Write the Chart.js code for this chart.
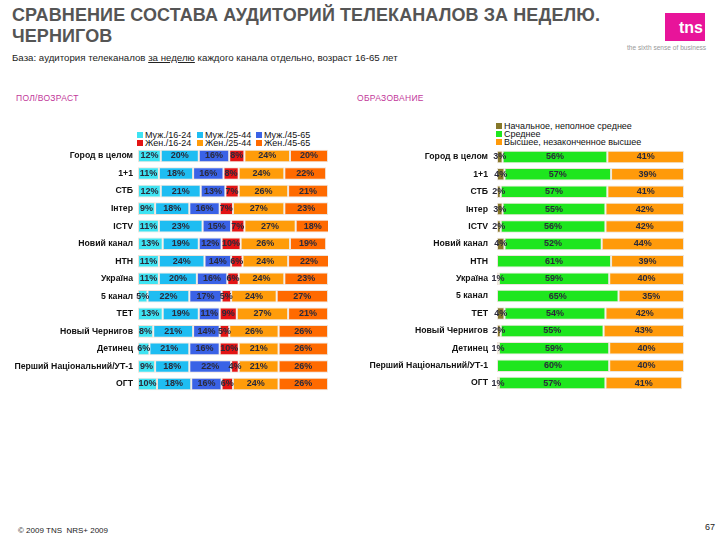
<!DOCTYPE html>
<html>
<head>
<meta charset="utf-8">
<script src="https://cdn.jsdelivr.net/npm/chart.js@4/dist/chart.umd.min.js"></script>
<style>
  body { margin:0; width:720px; height:540px; background:#fff; position:relative; overflow:hidden;
         font-family:"Liberation Sans", Arial, sans-serif; }
  .abs { position:absolute; }
  #title { left:12px; top:5px; font-size:18px; font-weight:bold; color:#555; line-height:21px; letter-spacing:0.1px; }
  #sub { left:12px; top:52px; font-size:9.7px; color:#222; }
  .sec { top:93px; font-size:8.5px; color:#c2389a; letter-spacing:0.3px; }
  .leg { font-size:9px; color:#111; line-height:8px; }
  .leg span.b { display:inline-block; width:6px; height:6px; margin-right:2px; vertical-align:0px; }
  #logo { left:665px; top:13px; width:40px; height:28px; background:#e8149a; color:#fff;
          font-weight:bold; font-size:16px; text-align:right; line-height:30px; padding-right:2px; box-sizing:border-box; }
  #slogan { left:627px; top:44px; font-size:6.6px; color:#999; }
  #foot { left:18px; top:526px; font-size:8px; color:#222; }
  #page { left:705px; top:522px; font-size:9px; color:#222; }
</style>
</head>
<body>
<div id="title" class="abs">СРАВНЕНИЕ СОСТАВА АУДИТОРИЙ ТЕЛЕКАНАЛОВ ЗА НЕДЕЛЮ.<br>ЧЕРНИГОВ</div>
<div id="sub" class="abs">База: аудитория телеканалов <u>за неделю</u> каждого канала отдельно, возраст 16-65 лет</div>
<div class="abs sec" style="left:16px">ПОЛ/ВОЗРАСТ</div>
<div class="abs sec" style="left:357px">ОБРАЗОВАНИЕ</div>
<div id="logo" class="abs">tns</div>
<div id="slogan" class="abs">the sixth sense of business</div>
<div id="foot" class="abs">© 2009 TNS&nbsp;&nbsp;NRS+ 2009</div>
<div id="page" class="abs">67</div>

<div id="legL" class="abs leg" style="left:137px; top:131px;"></div>
<div id="legR" class="abs leg" style="left:496px; top:122px;"></div>

<div class="abs" style="left:0; top:137px; width:335px; height:266px;"><canvas id="chart1"></canvas></div>
<div class="abs" style="left:360px; top:134px; width:330px; height:272px;"><canvas id="chart2"></canvas></div>

<script>
var channels = ["Город в целом", "1+1", "СТБ", "Інтер", "ICTV", "Новий канал", "НТН", "Україна",
                "5 канал", "ТЕТ", "Новый Чернигов", "Детинец", "Перший Національний/УТ-1", "ОГТ"];

// пол/возраст
var sexAgeLabels = ["Муж./16-24", "Муж./25-44", "Муж./45-65", "Жен./16-24", "Жен./25-44", "Жен./45-65"];
var male1624   = [12, 11, 12, 9, 11, 13, 11, 11, 5, 13, 8, 6, 9, 10];
var male2544   = [20, 18, 21, 18, 23, 19, 24, 20, 22, 19, 21, 21, 18, 18];
var male4565   = [16, 16, 13, 16, 15, 12, 14, 16, 17, 11, 14, 16, 22, 16];
var female1624 = [8, 8, 7, 7, 7, 10, 6, 6, 5, 9, 5, 10, 4, 6];
var female2544 = [24, 24, 26, 27, 27, 26, 24, 24, 24, 27, 26, 21, 21, 24];
var female4565 = [20, 22, 21, 23, 18, 19, 22, 23, 27, 21, 26, 26, 26, 26];
var sexAgeColors = ['#3ee3f2', '#1ebdf2', '#3a62e6', '#e31414', '#ff9c0a', '#ff6a00'];

// образование
var eduLabels = ["Начальное, неполное среднее", "Среднее", "Высшее, незаконченное высшее"];
var eduPrimary = [3, 4, 2, 3, 2, 4, 0, 1, 0, 4, 2, 1, 0, 1];
var eduSecondary = [56, 57, 57, 55, 56, 52, 61, 59, 65, 54, 55, 59, 60, 57];
var eduHigher = [41, 39, 41, 42, 42, 44, 39, 40, 35, 42, 43, 40, 40, 41];
var eduColors = ['#86782a', '#1ee61e', '#ff9a0a'];

var segLabels = {
  id: 'segLabels',
  afterDatasetsDraw: function(chart) {
    var c = chart.ctx;
    c.save();
    c.font = 'bold 9px "Liberation Sans", Arial, sans-serif';
    c.fillStyle = '#2a2a3a';
    c.textAlign = 'center';
    c.textBaseline = 'middle';
    chart.data.datasets.forEach(function(ds, i) {
      chart.getDatasetMeta(i).data.forEach(function(el, j) {
        var v = ds.data[j];
        if (!v) return;
        c.fillText(v + '%', (el.x + el.base) / 2, el.y);
      });
    });
    c.restore();
  }
};

function makeChart(id, labels, series, colors, axisWidth, padRight, tickPad) {
  var datasets = series.map(function(d, i) {
    return {
      label: labels[i], data: d, backgroundColor: colors[i],
      borderColor: 'rgba(235,225,215,0.9)', borderWidth: 1, borderSkipped: false,
      barPercentage: 0.72, categoryPercentage: 1
    };
  });
  return new Chart(document.getElementById(id).getContext('2d'), {
    type: 'bar',
    data: { labels: channels, datasets: datasets },
    options: {
      indexAxis: 'y',
      responsive: true,
      maintainAspectRatio: false,
      animation: false,
      layout: { padding: { right: padRight, top: 0, bottom: 0 } },
      plugins: { legend: { display: false }, tooltip: { enabled: false } },
      scales: {
        x: { stacked: true, min: 0, max: 100, display: false },
        y: {
          stacked: true,
          grid: { display: false, drawTicks: false },
          border: { display: false },
          ticks: { color: '#111', padding: tickPad, font: { size: 8.7, weight: 'bold', family: '"Liberation Sans", Arial, sans-serif' } },
          afterFit: function(s) { s.width = axisWidth; }
        }
      }
    },
    plugins: [segLabels]
  });
}

function legend(id, labels, colors, perRow, colX) {
  var el = document.getElementById(id), html = '';
  labels.forEach(function(l, i) {
    var col = i % perRow, row = Math.floor(i / perRow);
    html += '<div style="position:absolute;white-space:nowrap;left:' + colX[col] + 'px;top:' + (row * 8) + 'px">' +
            '<span class="b" style="background:' + colors[i] + '"></span>' + l + '</div>';
  });
  el.innerHTML = html;
}

legend('legL', sexAgeLabels, sexAgeColors, 3, [0, 60, 119]);
legend('legR', eduLabels, eduColors, 1, [0]);

makeChart('chart1', sexAgeLabels, [male1624, male2544, male4565, female1624, female2544, female4565], sexAgeColors, 138, 7, 5);
makeChart('chart2', eduLabels, [eduPrimary, eduSecondary, eduHigher], eduColors, 137, 6, 9);
</script>
</body>
</html>
